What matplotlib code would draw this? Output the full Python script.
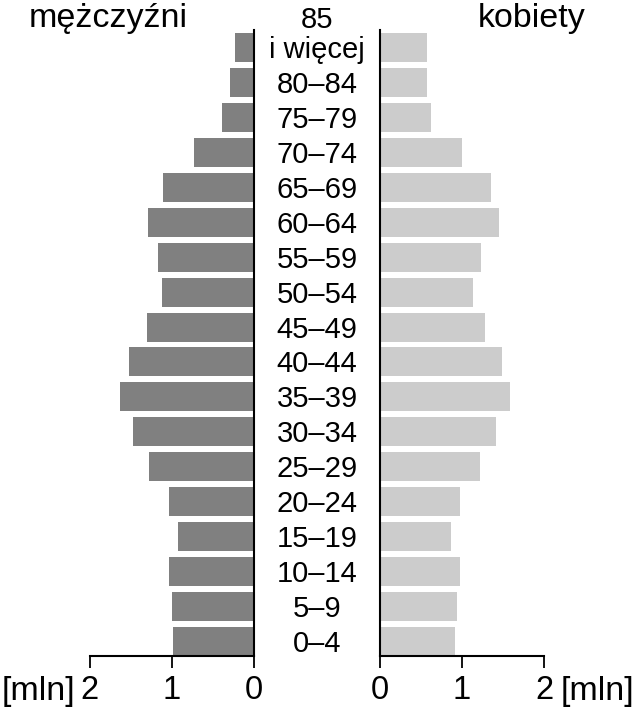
import matplotlib
matplotlib.use("Agg")
import matplotlib.pyplot as plt
from matplotlib.transforms import blended_transform_factory

plt.rcParams['font.family'] = ['Liberation Sans', 'DejaVu Sans']

age_groups = ["0–4", "5–9", "10–14", "15–19", "20–24", "25–29", "30–34",
              "35–39", "40–44", "45–49", "50–54", "55–59", "60–64", "65–69",
              "70–74", "75–79", "80–84", "i więcej"]
men = [0.98, 1.00, 1.03, 0.92, 1.03, 1.27, 1.47, 1.63, 1.52, 1.30,
       1.12, 1.16, 1.29, 1.10, 0.73, 0.39, 0.29, 0.22]
women = [0.92, 0.94, 0.98, 0.87, 0.98, 1.22, 1.42, 1.59, 1.49, 1.28,
         1.13, 1.23, 1.45, 1.35, 1.00, 0.63, 0.58, 0.58]
ticks = [0, 1, 2]
tick_labels = ["0", "1", "2"]

fig = plt.figure(figsize=(6.34, 7.09), dpi=100)
W, H = 634, 709

def ax_rect(x0, x1, ytop, ybot):
    return [x0 / W, (H - ybot) / H, (x1 - x0) / W, (ybot - ytop) / H]

axL = fig.add_axes(ax_rect(89.5, 253.5, 30, 656))
axR = fig.add_axes(ax_rect(379.7, 544, 30, 656))

ypos = list(range(len(age_groups)))
bh = 0.83
axL.barh(ypos, men, height=bh, color="#808080", zorder=1)
axR.barh(ypos, women, height=bh, color="#cccccc", zorder=1)

ylim = (-bh / 2, -bh / 2 + 626 / 34.94)
for ax in (axL, axR):
    ax.set_ylim(*ylim)
    ax.set_yticks([])
    ax.set_xticks(ticks)
    ax.set_xticklabels(tick_labels, fontsize=23.5)
    ax.tick_params(axis='x', length=8.5, width=1.3, pad=5, direction='out')
    ax.spines['top'].set_visible(False)
    for s in ax.spines.values():
        s.set_linewidth(1.5)
        s.set_zorder(3)

axL.set_xlim(2, 0)
axL.spines['left'].set_visible(False)
axR.set_xlim(0, 2)
axR.spines['right'].set_visible(False)

# age labels in the middle
tr = blended_transform_factory(fig.transFigure, axL.transData)
cx = 317 / W
for y, lab in zip(ypos, age_groups):
    axL.text(cx, y - 10.5 / 34.94, lab, transform=tr, ha='center', va='baseline',
             fontsize=21, clip_on=False)
axL.text(cx, ypos[-1] + 20 / 34.94, "85", transform=tr, ha='center', va='baseline',
         fontsize=21, clip_on=False)

# titles
fig.text(108 / W, 1 - 27.5 / H, "mężczyźni", ha='center', va='baseline', fontsize=24.5)
fig.text(532 / W, 1 - 27.5 / H, "kobiety", ha='center', va='baseline', fontsize=24.5)

# units
fig.text(38 / W, 9 / H, "[mln]", ha='center', va='baseline', fontsize=24.5)
fig.text(597 / W, 9 / H, "[mln]", ha='center', va='baseline', fontsize=24.5)

fig.savefig("out.png", dpi=100)
